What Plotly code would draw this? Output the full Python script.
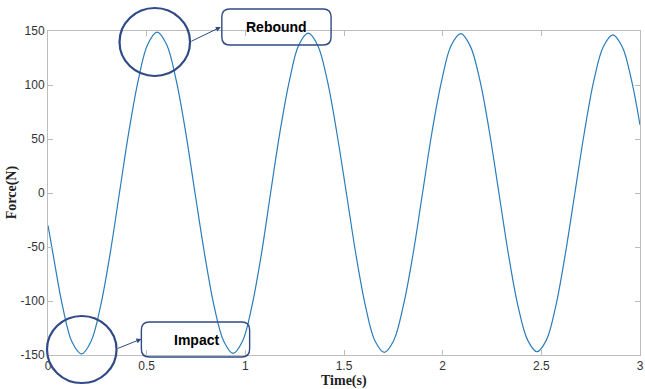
import plotly.graph_objects as go

# Data (time in s, force in N)
time_s = [0.0, 0.026, 0.074, 0.122, 0.170,
          0.218, 0.266, 0.314, 0.362, 0.410, 0.458, 0.505, 0.553,
          0.601, 0.649, 0.697, 0.745, 0.794, 0.842, 0.890, 0.938,
          0.986, 1.033, 1.081, 1.128, 1.176, 1.224, 1.271, 1.319,
          1.367, 1.415, 1.463, 1.512, 1.560, 1.608, 1.656, 1.704,
          1.752, 1.801, 1.850, 1.898, 1.946, 1.995, 2.043, 2.092,
          2.140, 2.189, 2.237, 2.285, 2.333, 2.381, 2.430, 2.478,
          2.526, 2.574, 2.622, 2.670, 2.718, 2.766, 2.814, 2.862,
          2.910, 2.958, 3.0]
force_n = [-30, -57, -105, -138, -149,
           -137.5, -105, -57, 0, 57, 105, 137.5, 149,
           137.5, 105, 57, 0, -57, -105, -137, -148.5,
           -137, -105, -57, 0, 57, 104.5, 137, 148,
           136.5, 104.5, 56.5, 0, -56.5, -104, -136.5, -147.5,
           -136.5, -104, -56.5, 0, 56.5, 104, 136.5, 147.5,
           136, 104, 56.5, 0, -56.5, -104, -136, -147,
           -136, -104, -56, 0, 56, 104, 135.5, 146.5,
           135.5, 103.5, 63]
x_ticks = [0, 0.5, 1, 1.5, 2, 2.5, 3]
x_tick_text = ["0", "0.5", "1", "1.5", "2", "2.5", "3"]
y_ticks = [-150, -100, -50, 0, 50, 100, 150]
y_tick_text = ["-150", "-100", "-50", "0", "50", "100", "150"]
labels = ["Rebound", "Impact"]

W, H = 645, 389
L, R, T, B = 48, 644, 31, 355

def px(x):
    return (x - L) / (R - L)

def py(y):
    return (B - y) / (B - T)

def rounded_rect(x0, y0, x1, y1, r=8):
    # pixel coords (y down) -> path in paper coords
    pts = [
        ("M", (x0 + r, y0)), ("L", (x1 - r, y0)), ("Q", (x1, y0), (x1, y0 + r)),
        ("L", (x1, y1 - r)), ("Q", (x1, y1), (x1 - r, y1)),
        ("L", (x0 + r, y1)), ("Q", (x0, y1), (x0, y1 - r)),
        ("L", (x0, y0 + r)), ("Q", (x0, y0), (x0 + r, y0)),
    ]
    parts = []
    for item in pts:
        cmd = item[0]
        coords = " ".join(f"{px(a):.5f},{py(b):.5f}" for a, b in item[1:])
        parts.append(f"{cmd} {coords}")
    return " ".join(parts) + " Z"

fig = go.Figure()
fig.add_trace(go.Scatter(x=time_s, y=force_n, mode="lines",
                         line=dict(color="#2a7dba", width=1.2, shape="spline", smoothing=1.0),
                         hoverinfo="skip", showlegend=False))

axis_common = dict(showgrid=False, zeroline=False, showline=True, linecolor="#bdbdbd",
                   linewidth=1, mirror="ticks", ticks="inside", ticklen=5,
                   tickcolor="#bdbdbd", ticklabeloverflow="allow",
                   tickfont=dict(family="Liberation Sans, Arial", size=12, color="#333333"))

fig.update_xaxes(range=[0, 3], tickvals=x_ticks, ticktext=x_tick_text, **axis_common)
fig.update_yaxes(range=[-150, 150], tickvals=y_ticks, ticktext=y_tick_text, **axis_common)

circle_col = "#2f4a86"
shapes = [
    dict(type="circle", xref="paper", yref="paper", x0=px(120), x1=px(191), y0=py(76), y1=py(8),
         line=dict(color=circle_col, width=2.2)),
    dict(type="circle", xref="paper", yref="paper", x0=px(47), x1=px(117), y0=py(383), y1=py(316),
         line=dict(color=circle_col, width=2.2)),
    dict(type="path", xref="paper", yref="paper", path=rounded_rect(223, 9, 333, 45),
         line=dict(color=circle_col, width=1.4)),
    dict(type="path", xref="paper", yref="paper", path=rounded_rect(142, 322, 251, 357),
         line=dict(color=circle_col, width=1.4)),
]

label_font = dict(family="Liberation Sans, Arial", size=14, color="black")
annotations = [
    dict(text="<b>" + labels[0] + "</b>", xref="paper", yref="paper", x=px(278), y=py(27),
         xanchor="center", yanchor="middle", showarrow=False, font=label_font),
    dict(text="<b>" + labels[1] + "</b>", xref="paper", yref="paper", x=px(197), y=py(340),
         xanchor="center", yanchor="middle", showarrow=False, font=label_font),
    dict(text="", xref="paper", yref="paper", x=px(222), y=py(27), ax=191 - 222, ay=42 - 27,
         axref="pixel", ayref="pixel", showarrow=True, arrowhead=2, arrowsize=1, arrowwidth=1,
         arrowcolor=circle_col),
    dict(text="", xref="paper", yref="paper", x=px(142), y=py(339), ax=117 - 142, ay=349 - 339,
         axref="pixel", ayref="pixel", showarrow=True, arrowhead=2, arrowsize=1, arrowwidth=1,
         arrowcolor=circle_col),
    dict(text="<b>Force(N)</b>", xref="paper", yref="paper", x=px(12), y=py(192),
         xanchor="center", yanchor="middle", showarrow=False, textangle=-90,
         font=dict(family="Liberation Serif, Times New Roman", size=14, color="#222222")),
    dict(text="<b>Time(s)</b>", xref="paper", yref="paper", x=px(346), y=py(381),
         xanchor="center", yanchor="middle", showarrow=False,
         font=dict(family="Liberation Serif, Times New Roman", size=14, color="#222222")),
]

fig.update_layout(width=W, height=H, margin=dict(l=L, r=W - R, t=T, b=H - B),
                  plot_bgcolor="white", paper_bgcolor="white",
                  shapes=shapes, annotations=annotations, showlegend=False)

fig.write_html("out.html", config={"displayModeBar": False},
               post_script="document.body.style.margin='0';document.body.style.padding='0';")
